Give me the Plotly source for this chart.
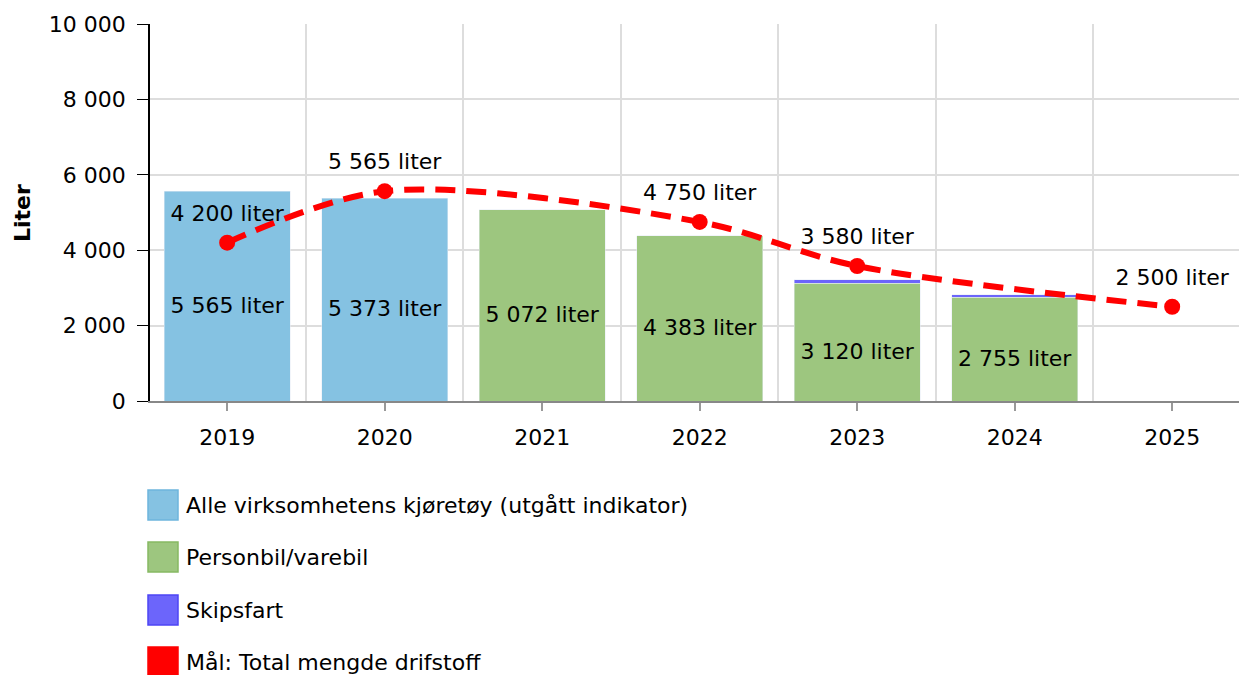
import plotly.graph_objects as go

years = [2019, 2020, 2021, 2022, 2023, 2024, 2025]
alle = [5565, 5373, None, None, None, None, None]
personbil = [None, None, 5072, 4383, 3120, 2755, None]
skipsfart = [None, None, None, None, 100, 70, None]
maal = [4200, 5565, None, 4750, 3580, None, 2500]

y_ticks = [0, 2000, 4000, 6000, 8000, 10000]
y_ticktext = ["0", "2 000", "4 000", "6 000", "8 000", "10 000"]

legend_names = ["Alle virksomhetens kjøretøy (utgått indikator)", "Personbil/varebil", "Skipsfart", "Mål: Total mengde drifstoff"]
legend_fill = ["#85c2e2", "#9dc67f", "#6c65fb", "#ff0000"]
legend_line = ["#6db5dd", "#86b963", "#4d45f5", "#ff0000"]

C_BLUE = "#85c2e2"
C_GREEN = "#9dc67f"
C_PURPLE = "#6c65fb"
C_RED = "#ff0000"

FONT = "DejaVu Sans, Verdana, sans-serif"
FS = 22


def fmt(v):
    return None if v is None else f"{v:,}".replace(",", " ") + " liter"


# label for each bar: the visible bar value of the main series
bar_vals = [a if a is not None else p for a, p in zip(alle, personbil)]

fig = go.Figure()
fig.add_trace(go.Bar(x=years, y=alle, marker_color=C_BLUE, width=0.8,
                     textposition="none", name=legend_names[0], showlegend=False))
fig.add_trace(go.Bar(x=years, y=personbil, marker_color=C_GREEN, width=0.8,
                     textposition="none", name=legend_names[1], showlegend=False))
fig.add_trace(go.Bar(x=years, y=skipsfart, marker_color=C_PURPLE, width=0.8,
                     textposition="none", name=legend_names[2], showlegend=False))
# bar value labels, placed at the middle of each bar
fig.add_trace(go.Scatter(x=years, y=[None if v is None else v / 2 for v in bar_vals],
                         mode="text", text=[fmt(v) for v in bar_vals],
                         textposition="bottom center",
                         textfont=dict(size=FS, color="black"),
                         hoverinfo="skip", showlegend=False))
fig.add_trace(go.Scatter(x=years, y=maal, mode="lines+markers",
                         connectgaps=True,
                         line=dict(color=C_RED, width=6, dash="20px,11px", shape="spline", smoothing=0.9),
                         marker=dict(size=16, color=C_RED),
                         name=legend_names[3], showlegend=False))
# labels for the target line (invisible larger markers give the text its offset)
fig.add_trace(go.Scatter(x=years, y=maal, mode="markers+text",
                         marker=dict(size=25, color="rgba(0,0,0,0)"),
                         text=[fmt(v) for v in maal], textposition="top center",
                         textfont=dict(size=FS, color="black"),
                         cliponaxis=False, hoverinfo="skip", showlegend=False))

W, H = 1239, 675
L, T, B = 150, 24, 274
plot_h = H - T - B
plot_w = W - L


def px_to_paper(px, py):
    return (px - L) / plot_w, (H - B - py) / plot_h


shapes = []
annotations = []
legend_y = [505, 557, 610, 662]
for name, fc, lc, py in zip(legend_names, legend_fill, legend_line, legend_y):
    x0, y0 = px_to_paper(148, py + 15)
    x1, y1 = px_to_paper(178, py - 15)
    shapes.append(dict(type="rect", xref="paper", yref="paper", x0=x0, x1=x1, y0=y0, y1=y1,
                       fillcolor=fc, line=dict(color=lc, width=1.5), layer="above"))
    tx, ty = px_to_paper(184, py)
    annotations.append(dict(xref="paper", yref="paper", x=tx, y=ty, xanchor="left", yanchor="middle",
                            text=name, showarrow=False, font=dict(size=FS, color="black", family=FONT)))

annotations.append(dict(xref="paper", yref="paper", x=px_to_paper(22, 0)[0], y=px_to_paper(0, 213)[1],
                        text="<b>Liter</b>", textangle=-90, showarrow=False,
                        xanchor="center", yanchor="middle", font=dict(size=22, color="black", family=FONT)))

x_start = 2018.51
x_scale = 157.5
fig.update_layout(
    width=W, height=H,
    margin=dict(l=L, r=0, t=T, b=B, autoexpand=False),
    barmode="stack",
    plot_bgcolor="white", paper_bgcolor="white",
    font=dict(family=FONT, size=FS, color="black"),
    showlegend=False,
    shapes=shapes,
    annotations=annotations,
    xaxis=dict(range=[x_start, x_start + plot_w / x_scale], automargin=False,
               tickvals=years, ticktext=[str(y) for y in years],
               showgrid=False, showline=True, linecolor="#888888", linewidth=1.5,
               ticks="outside", ticklen=8, tickcolor="#999999", tickwidth=1.5,
               ticklabelstandoff=8,
               tickfont=dict(size=FS, color="black"), zeroline=False, fixedrange=True,
               minor=dict(tickvals=[y + 0.5 for y in years[:-1]], showgrid=True,
                          gridcolor="#dddddd", gridwidth=1.5, ticklen=0)),
    yaxis=dict(range=[0, 10000], tickvals=y_ticks, ticktext=y_ticktext, automargin=False,
               showgrid=True, gridcolor="#dddddd", gridwidth=1.5,
               showline=True, linecolor="black", linewidth=1.5,
               ticks="outside", ticklen=11, tickcolor="black",
               ticklabelstandoff=7,
               tickfont=dict(size=FS, color="black"), zeroline=False, fixedrange=True),
)

fig.write_html("out.html", config={"displayModeBar": False},
               post_script="document.body.style.margin='0';")
